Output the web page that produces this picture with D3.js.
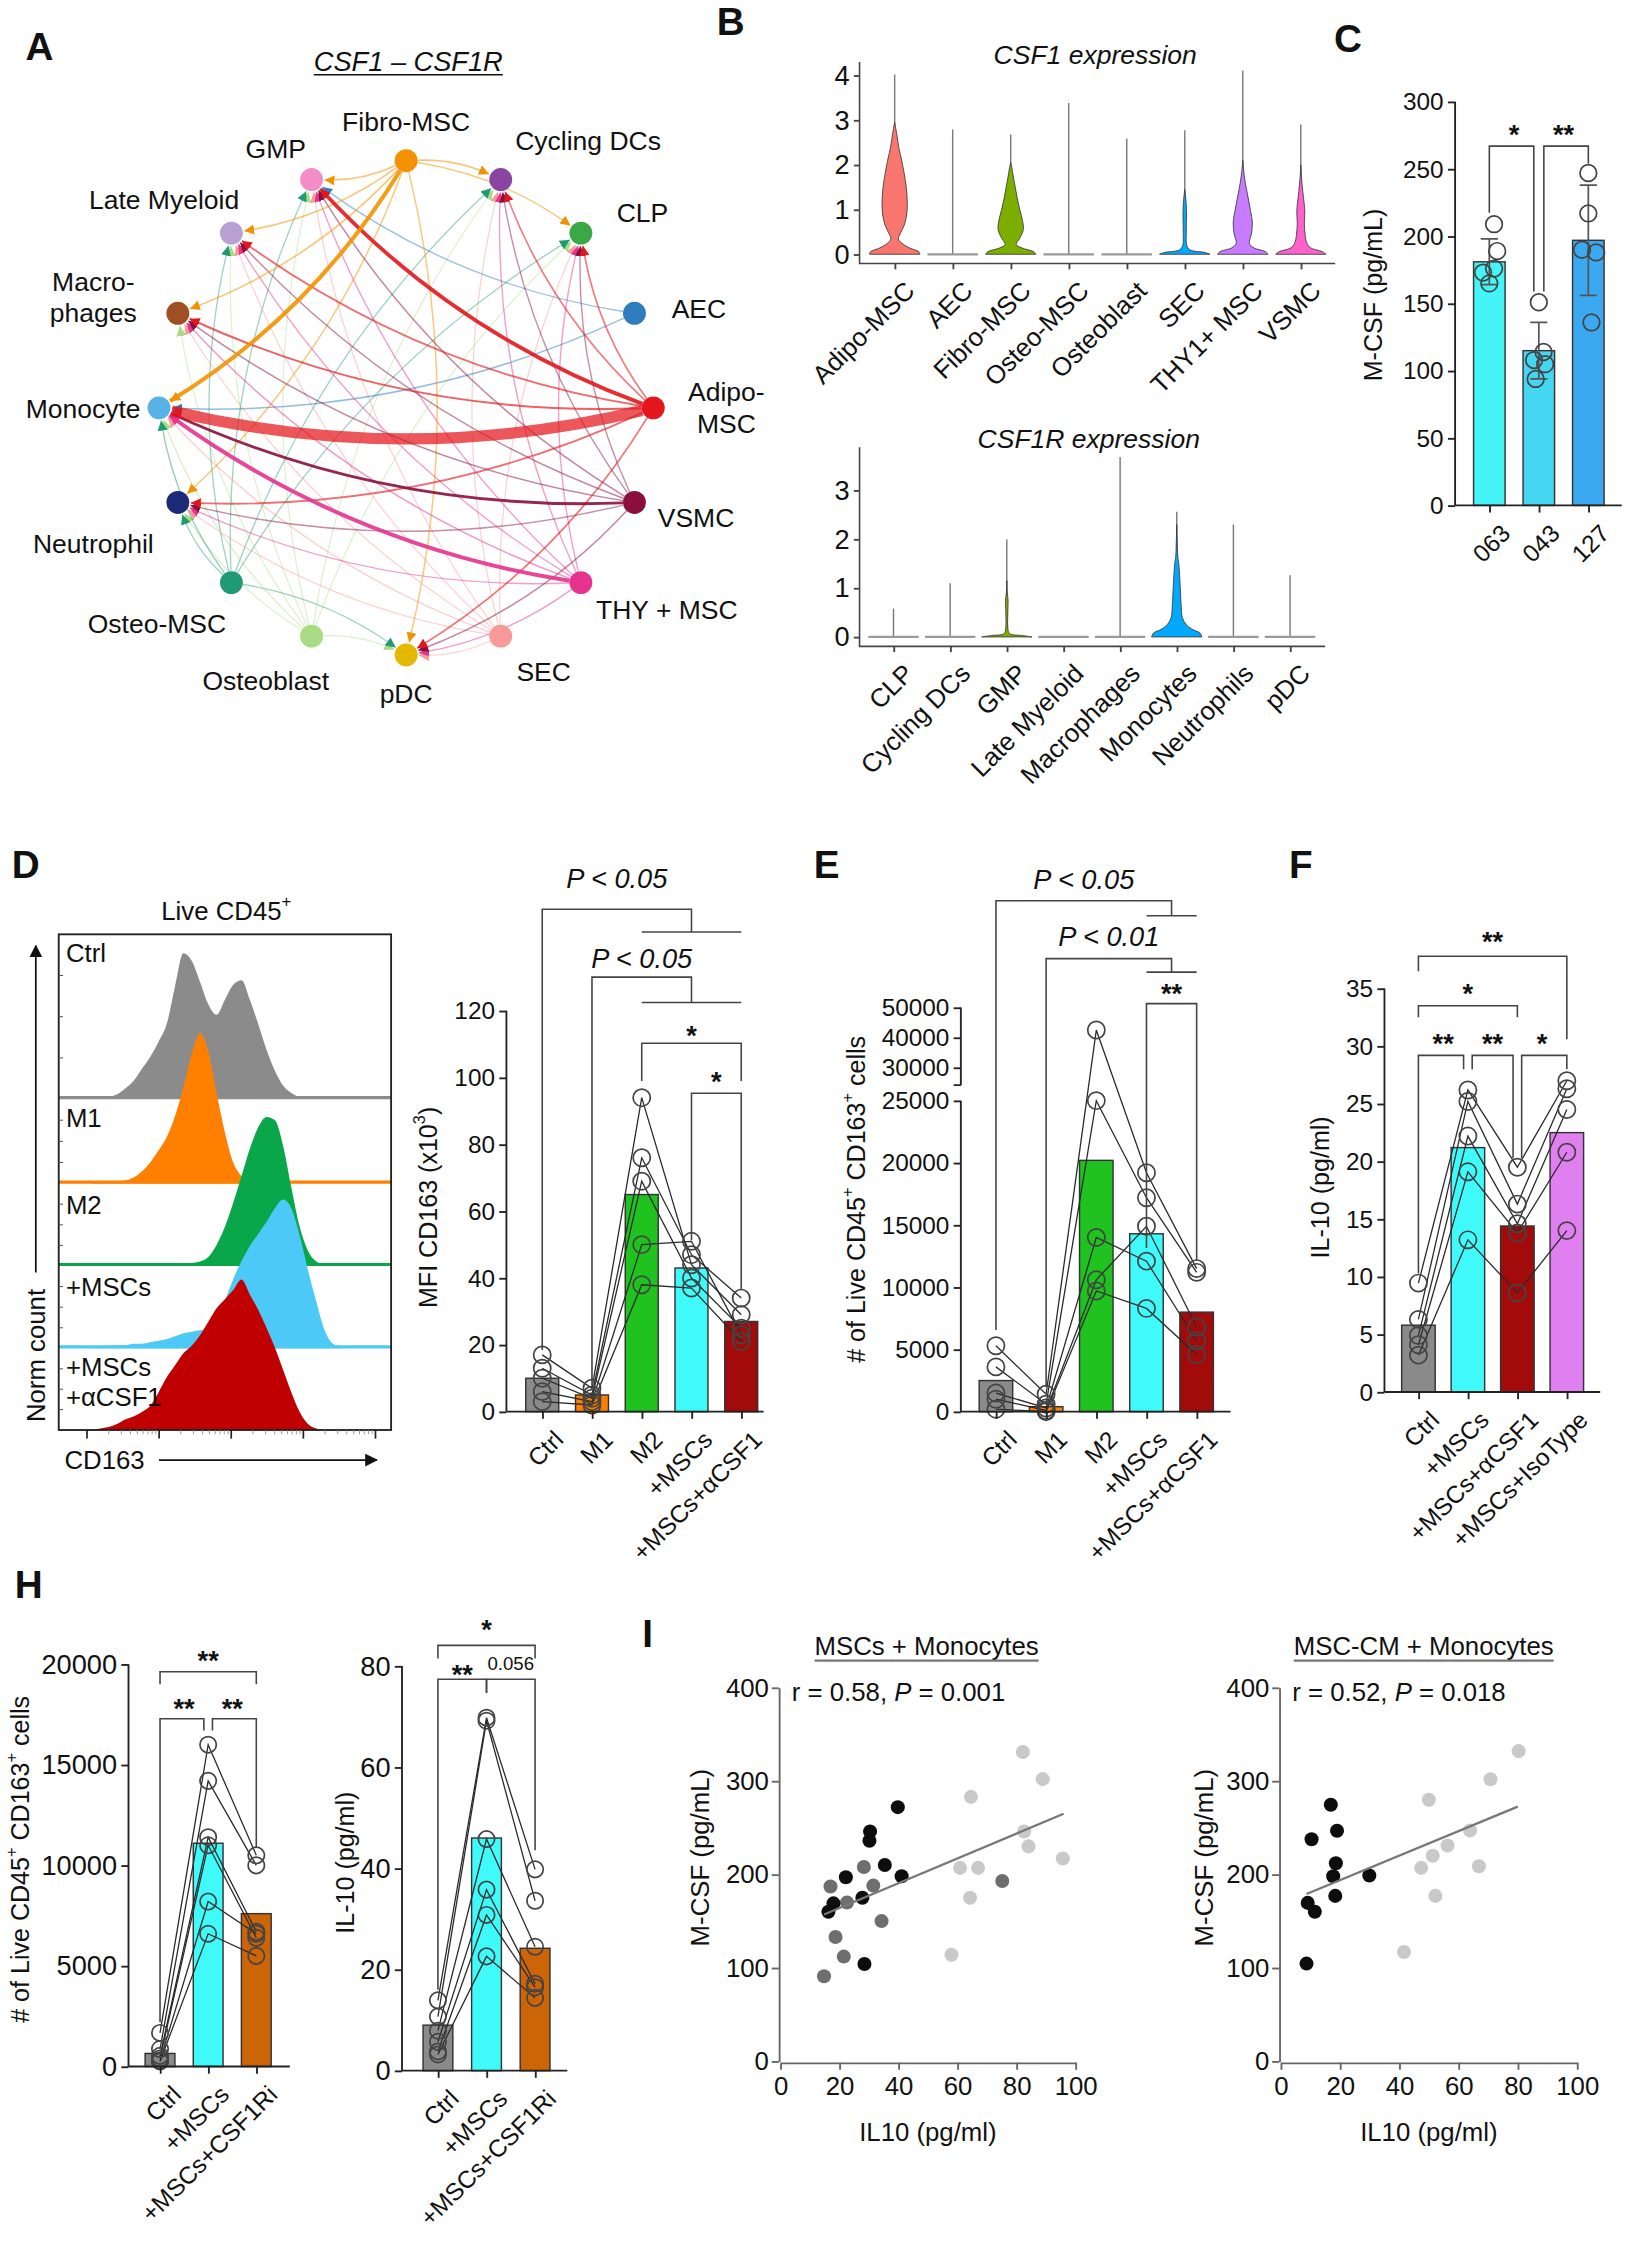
<!DOCTYPE html>
<html><head><meta charset="utf-8">
<script src="https://cdn.jsdelivr.net/npm/d3@7"></script>
<style>body{margin:0;background:#fff} svg{display:block}</style>
</head><body><svg id="fig"></svg>
<script>
"use strict";
// Figure: CSF1–CSF1R axis (A circle plot, B violins, C–I bar/scatter panels). Layout units = 1135x1566 viewBox.
const FONT = "Arial, 'Liberation Sans', Helvetica, sans-serif";

// ---------- A: cell–cell communication ----------
const cells = ["Fibro-MSC","Cycling DCs","CLP","AEC","Adipo-MSC","VSMC","THY+ MSC","SEC","pDC","Osteoblast","Osteo-MSC","Neutrophil","Monocyte","Macrophages","Late Myeloid","GMP"];
const cellColors = ["#f39200","#8a45a2","#3aa845","#2f7dbd","#e3161b","#8a0f3c","#e5338e","#f99a9a","#e4b800","#a9dc82","#1f9a72","#1d2a78","#58b2e6","#a04f22","#b9a0d3","#f48cc8"];
const cellLabels = [["Fibro-MSC"],["Cycling DCs"],["CLP"],["AEC"],["Adipo-","MSC"],["VSMC"],["THY + MSC"],["SEC"],["pDC"],["Osteoblast"],["Osteo-MSC"],["Neutrophil"],["Monocyte"],["Macro-","phages"],["Late Myeloid"],["GMP"]];
const senders = ["Adipo-MSC","AEC","Fibro-MSC","Osteo-MSC","Osteoblast","SEC","THY+ MSC","VSMC"];
const receivers = ["CLP","Cycling DCs","GMP","Late Myeloid","Macrophages","Monocyte","Neutrophil","pDC"];
const commProb = [
  [0.08,0.08,0.28,0.10,0.12,1.00,0.10,0.09],
  [0.00,0.00,0.05,0.00,0.00,0.06,0.00,0.00],
  [0.06,0.07,0.07,0.07,0.07,0.32,0.06,0.06],
  [0.04,0.04,0.04,0.04,0.00,0.05,0.04,0.04],
  [0.03,0.03,0.03,0.03,0.03,0.04,0.03,0.03],
  [0.04,0.04,0.04,0.04,0.04,0.05,0.04,0.04],
  [0.05,0.05,0.05,0.05,0.06,0.30,0.05,0.05],
  [0.05,0.05,0.06,0.06,0.06,0.20,0.05,0.06]
];

// ---------- B: violins ----------
const csf1Cats = ["Adipo-MSC","AEC","Fibro-MSC","Osteo-MSC","Osteoblast","SEC","THY1+ MSC","VSMC"];
const csf1rCats = ["CLP","Cycling DCs","GMP","Late Myeloid","Macrophages","Monocytes","Neutrophils","pDC"];
const hueColors = ["#F8766D","#CD9600","#7CAE00","#00BE67","#00BFC4","#00A9FF","#C77CFF","#FF61CC"];
const csf1Max = [4.02,2.79,2.68,3.38,2.58,2.77,4.11,2.9];
const csf1Shape = [
  [[0,1],[0.06,0.95],[0.14,0.6],[0.24,0.3],[0.34,0.15],[0.46,0.22],[0.65,0.38],[0.9,0.48],[1.2,0.5],[1.5,0.46],[1.8,0.38],[2.1,0.28],[2.4,0.16],[2.7,0.08],[2.95,0]],
  null,
  [[0,1],[0.06,0.9],[0.14,0.45],[0.22,0.22],[0.35,0.35],[0.55,0.5],[0.75,0.47],[1.0,0.36],[1.25,0.26],[1.5,0.18],[1.75,0.1],[1.95,0.04],[2.05,0]],
  null, null,
  [[0,1],[0.04,0.8],[0.1,0.2],[0.2,0.08],[0.5,0.06],[0.9,0.07],[1.1,0.06],[1.3,0.03],[1.45,0]],
  [[0,1],[0.06,0.9],[0.14,0.45],[0.24,0.26],[0.45,0.34],[0.7,0.38],[1.0,0.3],[1.3,0.2],[1.6,0.1],[1.85,0.04],[2.1,0]],
  [[0,1],[0.06,0.85],[0.14,0.4],[0.25,0.24],[0.45,0.17],[0.7,0.14],[0.95,0.16],[1.15,0.13],[1.4,0.08],[1.7,0.03],[2.0,0]]
];
const csf1rMax = [0.58,1.1,1.99,0,3.68,2.56,2.3,1.26];
const csf1rShape = [
  null, null,
  [[0,1],[0.03,0.6],[0.07,0.1],[0.2,0.04],[0.5,0.04],[0.75,0.05],[0.9,0.02],[1.15,0]],
  null, null,
  [[0,1],[0.08,0.92],[0.16,0.6],[0.26,0.36],[0.4,0.22],[0.6,0.18],[0.9,0.15],[1.2,0.12],[1.5,0.08],[1.65,0.04],[2.0,0.015],[2.3,0]],
  null, null
];

// ---------- C ----------
const cCats = ["063","043","127"];
const cMean = [181,115,197];
const cSD = [17,21,41];
const cPoints = [[209,189,176,173,165],[151,114,108,105,94],[247,217,190,188,136]];
const cJitter = [[0.3,0.5,0.3,-0.4,0],[0,0.3,-0.3,0.4,-0.2],[0,0,-0.4,0.5,0.2]];
const cColors = ["#45f4f6","#45d6f2","#3ba9ef"];

// ---------- D ----------
const histGrid = [10,12.5,15,17.5,20,22.5,25,27.5,30,32.5,35,37.5,40,42.5,45,47.5,50,52.5,55,57.5,60,62.5,65,67.5,70,72.5,75,77.5,80,82.5,85];
const histCtrl = [0.01,0.01,0.015,0.03,0.07,0.12,0.2,0.28,0.38,0.5,0.75,0.97,0.92,0.78,0.63,0.56,0.66,0.76,0.79,0.66,0.5,0.33,0.19,0.09,0.04,0.015,0.01,0.01,0.01,0.01,0.01];
const histM1 = [0.005,0.01,0.01,0.015,0.02,0.04,0.08,0.14,0.22,0.31,0.45,0.64,0.86,1.0,0.88,0.6,0.34,0.14,0.05,0.02,0.01,0.005,0,0,0,0,0,0,0,0,0];
const histM2 = [0.01,0.01,0.01,0.01,0.01,0.01,0.01,0.01,0.01,0.01,0.01,0.015,0.02,0.03,0.06,0.14,0.26,0.42,0.6,0.78,0.92,0.99,0.97,0.8,0.52,0.26,0.1,0.03,0.01,0.01,0.01];
const histMSC = [0.01,0.01,0.015,0.02,0.02,0.03,0.03,0.04,0.05,0.06,0.08,0.1,0.11,0.12,0.13,0.2,0.32,0.46,0.58,0.68,0.76,0.84,0.93,0.99,0.93,0.75,0.52,0.31,0.12,0.03,0.01];
const histAnti = [0,0.01,0.02,0.04,0.07,0.09,0.12,0.16,0.25,0.35,0.43,0.51,0.56,0.63,0.72,0.81,0.87,0.93,1.0,0.9,0.8,0.68,0.55,0.4,0.25,0.12,0.04,0.01,0,0,0];
const histColors = ["#8b8b8b","#ff8000","#0aa64a","#4cc9f7","#c00000"];
const histDecades = [8.5,30.2,51.9,73.6,95.3];

const dCats = ["Ctrl","M1","M2","+MSCs","+MSCs+αCSF1"];
const dMean = [10,5,65,43,27];
const dDonors = [[17,7,94,44,29],[13,5,76,47,34],[10,4,69,40,25],[6,3,50,51,23],[3,2,38,37,21]];
const groupColors = ["#8a8a8a","#ff7f00","#1fc21f","#40fafa","#a30b0b"];

// ---------- E ----------
const eMean = [2500,400,20200,14300,8000];
const eDonors = [[5300,1400,42500,19200,11500],[3600,600,25000,17200,11200],[1500,300,14000,12100,5700],[1000,100,10600,14900,6800],[200,0,9700,8300,4600]];
const eTicks = [0,5000,10000,15000,20000,25000,30000,40000,50000];

// ---------- F ----------
const fCats = ["Ctrl","+MSCs","+MSCs+αCSF1","+MSCs+IsoType"];
const fMean = [5.8,21.2,14.4,22.5];
const fDonors = [[9.45,26.2,19.5,27],[6.3,25.2,16.3,26.3],[4.9,22.2,14.6,24.5],[4.1,19.1,13.8,20.8],[3.2,13.2,8.6,14]];
const fColors = ["#8a8a8a","#40fafa","#a30b0b","#e07ff0"];

// ---------- H ----------
const hCats = ["Ctrl","+MSCs","+MSCs+CSF1Ri"];
const hCellMean = [650,11100,7600];
const hCellDonors = [[1670,16000,10500],[870,14200,10000],[530,11400,6700],[400,11000,6400],[300,8200,6600],[250,6600,5500]];
const hIlMean = [9,46,24.2];
const hIlDonors = [[13.9,69.8,39.8],[10.7,69.2,33.6],[7.9,45.8,24.5],[5.7,35.8,17.2],[3.8,30.8,16.5],[3.2,22.6,14.4]];
const hColors = ["#8a8a8a","#40fafa","#cc6508"];

// ---------- I ----------
const iLeftBlack = [[16.3,160],[18,169],[22.2,197],[27.8,175],[28.5,104],[30.2,236],[30.4,246],[35.4,210],[39.8,272],[41.1,198]];
const iLeftDark = [[14.8,91],[18.7,133],[21.5,112],[22.6,170],[17,187],[28.3,208],[31.5,188],[34.3,150],[75.2,193]];
const iLeftLight = [[60.9,207],[64.6,283],[64.3,175],[67,207],[58,114],[82.2,331],[82.6,246],[84.1,230],[88.9,302],[95.7,217]];
const iLeftFit = [[14.8,157],[96,265]];
const iRightBlack = [[8.7,104.5],[9.1,169.5],[11.5,160],[10.4,237.6],[16.9,274.5],[19,246.7],[18.6,212],[17.7,198],[18.4,177],[29.9,198.8]];
const iRightLight = [[41.6,117],[47.4,207],[50,280],[51.3,220],[52.2,177],[56.3,231],[63.9,247],[66.9,208.7],[70.8,301.8],[80.3,332]];
const iRightFit = [[8.7,179],[80,272.5]];

// =====================================================================
const svg = d3.select("#fig").attr("width",1626).attr("height",2244).attr("viewBox","0 0 1135 1566")
  .attr("font-family",FONT).style("background","#fff");

function T(g,x,y,s,o={}){
  const t=g.append("text").attr("x",x).attr("y",y).text(s).attr("font-size",o.fs||18)
    .attr("text-anchor",o.anchor||"middle").attr("fill",o.fill||"#111");
  if(o.italic) t.attr("font-style","italic");
  if(o.bold) t.attr("font-weight","bold");
  if(o.db) t.attr("dominant-baseline",o.db);
  if(o.rot!=null) t.attr("transform",`rotate(${o.rot},${x},${y})`);
  return t;
}
// text with superscripts: parts = [[str, sup?], ...]
function R(g,x,y,parts,o={}){
  const t=T(g,x,y,"",o);
  parts.forEach(([s,sup])=>{ const ts=t.append("tspan").text(s); if(sup) ts.attr("baseline-shift","super").attr("font-size",(o.fs||18)*0.65); });
  return t;
}
function styleAxis(a,fs,col){
  a.attr("font-size",fs).attr("font-family",FONT);
  a.selectAll("text").attr("fill","#111");
  a.selectAll("line,path").attr("stroke",col||"#222").attr("stroke-width",1.3);
}

// panel letters
[["A",27.5,32],["B",510,15],["C",941,27],["D",18,603],["E",577,603],["F",908,603],["H",20,1106],["I",452,1140]]
  .forEach(([s,x,y])=>T(svg,x,y,s,{fs:27,bold:true,db:"central"}));

// ================= A =================
(function(){
  const g=svg.append("g");
  const cx=283.5, cy=284.5, Rr=172.5, nr=8;
  const ang=d3.scaleLinear().domain([0,cells.length]).range([-Math.PI/2,1.5*Math.PI]);
  const pos=cells.map((c,i)=>[cx+Rr*Math.cos(ang(i)), cy+Rr*Math.sin(ang(i))]);
  const idx=(n)=>cells.indexOf(n);
  const t=T(g,285,43,"CSF1 – CSF1R",{fs:19,italic:true,db:"central"});
  const tw=t.node().getComputedTextLength();
  g.append("line").attr("x1",285-tw/2).attr("x2",285+tw/2).attr("y1",52).attr("y2",52).attr("stroke","#111").attr("stroke-width",1.1);

  const defs=svg.append("defs");
  senders.forEach((s,i)=>{
    defs.append("marker").attr("id","arr"+i).attr("viewBox","0 0 10 10").attr("refX",10).attr("refY",5)
      .attr("markerWidth",7).attr("markerHeight",7).attr("markerUnits","userSpaceOnUse").attr("orient","auto")
      .append("path").attr("d","M0,0L10,5L0,10Z").attr("fill",cellColors[idx(s)]);
  });
  const edges=[];
  senders.forEach((s,i)=>receivers.forEach((r,j)=>{ if(commProb[i][j]>0) edges.push({s,r,p:commProb[i][j],si:i}); }));
  edges.sort((a,b)=>a.p-b.p);
  const wS=d3.scaleLinear([0,1],[0.6,7.8]);
  const oS=d3.scaleLinear([0.03,0.2],[0.42,0.9]).clamp(true);
  const mv=(p,q,d)=>{const vx=q[0]-p[0],vy=q[1]-p[1],L=Math.hypot(vx,vy)||1;return [p[0]+vx/L*d,p[1]+vy/L*d];};
  g.append("g").selectAll("path").data(edges).join("path")
    .attr("d",e=>{ const a=pos[idx(e.s)], b=pos[idx(e.r)]; const dx=b[0]-a[0], dy=b[1]-a[1];
      const c=[(a[0]+b[0])/2+0.12*dy,(a[1]+b[1])/2-0.12*dx]; const s=mv(a,c,nr), en=mv(b,c,nr+1);
      return `M${s[0]},${s[1]}Q${c[0]},${c[1]} ${en[0]},${en[1]}`; })
    .attr("fill","none").attr("stroke",e=>cellColors[idx(e.s)]).attr("stroke-width",e=>wS(e.p))
    .attr("stroke-opacity",e=>e.p>0.9?0.72:oS(e.p)).attr("marker-end",e=>`url(#arr${e.si})`);
  g.append("g").selectAll("circle").data(cells).join("circle")
    .attr("cx",(c,i)=>pos[i][0]).attr("cy",(c,i)=>pos[i][1]).attr("r",nr).attr("fill",(c,i)=>cellColors[i]);
  const off=[[0,-27],[61,-27],[43,-14],[45,-3],[51,0],[43,11],[60,19],[30,25],[0,27],[-32,31],[-52,29],[-59,29],[-53,1],[-59,-11],[-47,-23],[-25,-21]];
  cellLabels.forEach((ls,i)=>{
    const x=pos[i][0]+off[i][0], y=pos[i][1]+off[i][1];
    ls.forEach((l,k)=>T(g,x,y+(k-(ls.length-1)/2)*22,l,{fs:18.5,db:"central"}));
  });
})();

// ================= B =================
function violinPanel(o){
  const g=svg.append("g");
  const x=d3.scalePoint().domain(o.cats).range(o.xRange);
  const y=d3.scaleLinear().domain([0,o.top]).range([o.y0,o.yTop]);
  const hw=17.6;
  T(g,o.titleX,o.titleY,o.title,{fs:18.5,italic:true,db:"central"});
  g.append("path").attr("d",`M${o.axisX},${o.axisTopY}V${o.axisY}H${o.axisEnd}`).attr("fill","none").attr("stroke","#444").attr("stroke-width",1.1);
  const ya=g.append("g").attr("transform",`translate(${o.axisX},0)`).call(d3.axisLeft(y).tickValues(o.ticks).tickSize(4).tickPadding(3).tickFormat(d3.format("d")));
  ya.select(".domain").remove(); styleAxis(ya,19,"#444");
  const xa=g.append("g").attr("transform",`translate(0,${o.axisY})`).call(d3.axisBottom(x).tickSize(4).tickFormat(""));
  xa.select(".domain").remove(); styleAxis(xa,12,"#444");
  g.selectAll("line.vl").data(o.cats).join("line").attr("x1",c=>x(c)).attr("x2",c=>x(c))
    .attr("y1",y(0)).attr("y2",(c,i)=>y(o.max[i])).attr("stroke","#7a7a7a").attr("stroke-width",1);
  const area=d3.area().curve(d3.curveCatmullRom);
  o.cats.forEach((c,i)=>{
    const sh=o.shape[i], cx=x(c);
    if(!sh){ g.append("line").attr("x1",cx-hw).attr("x2",cx+hw).attr("y1",y(0)).attr("y2",y(0)).attr("stroke","#9a9a9a").attr("stroke-width",1.6); return; }
    area.y(d=>y(d[0])).x0(d=>cx-d[1]*hw).x1(d=>cx+d[1]*hw);
    g.append("path").attr("d",area(sh)).attr("fill",o.colors[i]).attr("stroke","#3a3a3a").attr("stroke-width",0.6);
  });
  o.cats.forEach(c=>T(g,x(c)+6,o.axisY+11,c,{fs:18,anchor:"end",db:"hanging",rot:-45}));
}
violinPanel({cats:csf1Cats,xRange:[624.5,908],top:4,y0:177.3,yTop:52.4,axisX:600,axisY:183.8,axisTopY:43,axisEnd:932,
  ticks:[0,1,2,3,4],max:csf1Max,shape:csf1Shape,colors:hueColors,title:"CSF1 expression",titleX:764.5,titleY:38});
violinPanel({cats:csf1rCats,xRange:[623.7,900.5],top:3,y0:444.4,yTop:342,axisX:600,axisY:451,axisTopY:312,axisEnd:925,
  ticks:[0,1,2,3],max:csf1rMax,shape:csf1rShape,colors:hueColors,title:"CSF1R expression",titleX:760,titleY:306});

// ================= bar panels =================
function barPanel(o){
  const g=svg.append("g");
  const x=d3.scalePoint().domain(o.cats).range(o.xRange);
  const y=o.y, y0=y(0), step=x.step();
  const xi=(f)=>x(o.cats[0])+f*step;
  g.selectAll("rect").data(o.means).join("rect")
    .attr("x",(d,i)=>xi(i)-o.bw/2).attr("width",o.bw).attr("y",d=>y(d)).attr("height",d=>y0-y(d))
    .attr("fill",(d,i)=>o.colors[i]).attr("stroke","#333").attr("stroke-width",1);
  if(o.sd){
    o.means.forEach((m,i)=>{
      const a=y(m+o.sd[i]), b=y(m-o.sd[i]), cx=xi(i);
      g.append("path").attr("d",`M${cx},${a}V${b}M${cx-6},${a}H${cx+6}M${cx-6},${b}H${cx+6}`).attr("stroke","#555").attr("stroke-width",1.2).attr("fill","none");
    });
  }
  if(o.lines){
    const ln=d3.line().x((d,i)=>xi(i)).y(d=>y(d));
    g.selectAll("path.dn").data(o.donors).join("path").attr("class","dn").attr("d",ln).attr("fill","none").attr("stroke","#2a2a2a").attr("stroke-width",0.9);
  }
  o.donors.forEach((dn,k)=>dn.forEach((v,i)=>{
    const jx=o.jitter?o.jitter[i][k]*o.bw*0.5:0;
    g.append("circle").attr("cx",xi(i)+jx).attr("cy",y(v)).attr("r",o.r||6).attr("fill","none").attr("stroke","#444").attr("stroke-width",1.2);
  }));
  const ya=g.append("g").attr("transform",`translate(${o.axisX},0)`).call(d3.axisLeft(y).tickValues(o.ticks).tickSize(5).tickSizeOuter(0).tickPadding(3).tickFormat(d3.format("d")));
  styleAxis(ya,o.fs||17);
  if(o.broken){ ya.select(".domain").remove(); o.broken(g); }
  else ya.select(".domain").attr("d",`M0,${y(o.ticks[0])}V${y(o.ticks[o.ticks.length-1])}`);
  const xa=g.append("g").attr("transform",`translate(0,${y0})`).call(d3.axisBottom(x).tickSize(5).tickSizeOuter(0).tickFormat(""));
  styleAxis(xa,12); xa.select(".domain").attr("d",`M${o.axisX},0H${o.xEnd}`);
  o.cats.forEach(c=>T(g,x(c)+7,y0+12,c,{fs:o.cfs||17,anchor:"end",db:"hanging",rot:-45}));
  if(o.ylab) R(g,o.ylab[0],o.ylab[1],o.ylab[2],{fs:o.lfs||17.5,db:"central",rot:-90});
  // significance brackets
  const path=(pts)=>g.append("path").attr("d",d3.line()(pts)).attr("fill","none").attr("stroke","#444").attr("stroke-width",1.1);
  const star=(xx,yv,s,small)=>{ if(/^\*+$/.test(s)) T(g,xx,y(yv)+9.5,s,{fs:19,bold:true}); else if(small) T(g,xx,y(yv),s,{fs:13,db:"central"}); else T(g,xx,y(yv),s,{fs:19,italic:true,db:"central"}); };
  (o.sig||[]).forEach(b=>{
    if(b.type==="group"){
      const xa0=xi(b.a), xk=xi(b.knee);
      path([[xa0,y(b.legA)],[xa0,y(b.top)],[xk,y(b.top)],[xk,y(b.low)]]);
      path([[xi(b.span[0]),y(b.low)],[xi(b.span[1]),y(b.low)]]);
      star((xa0+xk)/2,b.ty,b.text);
    } else {
      const x1=xi(b.a)+(b.offA||0), x2=xi(b.b)+(b.offB||0);
      path([[x1,y(b.legA)],[x1,y(b.top)],[x2,y(b.top)],[x2,y(b.legB)]]);
      star((xi(b.a)+xi(b.b))/2,b.ty,b.text,b.small);
    }
  });
  return g;
}

// ================= C =================
barPanel({cats:cCats,xRange:[1039.6,1108.7],bw:22,y:d3.scaleLinear([0,300],[352.6,70.8]),means:cMean,sd:cSD,colors:cColors,
  donors:d3.transpose(cPoints),jitter:cJitter,r:5.8,axisX:1015.7,xEnd:1132,ticks:[0,50,100,150,200,250,300],fs:17,cfs:17,
  ylab:[958.6,205.7,[["M-CSF (pg/mL)"]]],
  sig:[{a:0,b:1,top:267,legA:217.5,legB:159,offB:-3.5,text:"*",ty:278.7},{a:1,b:2,top:267,legA:159,legB:254,offA:3.5,text:"**",ty:278.7}]});

// ================= D histogram =================
(function(){
  const g=svg.append("g");
  const L=41,Rt=273,Tp=652,Bt=998;
  const hx=d3.scaleLinear([0,100],[L,Rt]);
  const hh=d3.scaleLinear([0,1],[0,105]);
  const base=[767,826,883.5,941,998];
  const rows=[histCtrl,histM1,histM2,histMSC,histAnti];
  R(g,158,636,[["Live CD45"],["+",true]],{fs:18,db:"central"});
  rows.forEach((r,k)=>{
    const area=d3.area().curve(d3.curveMonotoneX).x((d,i)=>hx(histGrid[i])).y0(base[k]).y1(d=>base[k]-hh(d));
    g.append("path").attr("d",area(r)).attr("fill",histColors[k]);
    if(k<4) g.append("line").attr("x1",L).attr("x2",Rt).attr("y1",base[k]-1).attr("y2",base[k]-1).attr("stroke",histColors[k]).attr("stroke-width",2.2);
  });
  g.append("rect").attr("x",L).attr("y",Tp).attr("width",Rt-L).attr("height",Bt-Tp).attr("fill","none").attr("stroke","#222").attr("stroke-width",1.3);
  // log ticks on bottom edge
  histDecades.forEach((d,k)=>{
    g.append("line").attr("x1",hx(d)).attr("x2",hx(d)).attr("y1",Bt).attr("y2",Bt+6).attr("stroke","#222").attr("stroke-width",1.2);
    if(k<histDecades.length-1) [2,3,4,5,6,7,8,9].forEach(m=>{ const xx=hx(d+Math.log10(m)*(histDecades[k+1]-d));
      g.append("line").attr("x1",xx).attr("x2",xx).attr("y1",Bt).attr("y2",Bt+3).attr("stroke","#888").attr("stroke-width",0.6); });
  });
  [0.25,0.5,0.75].forEach(f=>[Tp,767,826,883.5,941].forEach((b,k)=>{ const nb=[767,826,883.5,941,998][k]; const yy=b+(nb-b)*f;
    g.append("line").attr("x1",L).attr("x2",L+3).attr("y1",yy).attr("y2",yy).attr("stroke","#555").attr("stroke-width",0.7); }));
  const lab=[[665,"Ctrl"],[780,"M1"],[841,"M2"],[898,"+MSCs"],[954,"+MSCs"],[975,"+αCSF1"]];
  lab.forEach(([yy,s])=>T(g,46,yy,s,{fs:18,anchor:"start",db:"central"}));
  g.append("defs").append("marker").attr("id","harr").attr("viewBox","0 0 10 10").attr("refX",9).attr("refY",5)
    .attr("markerWidth",9).attr("markerHeight",9).attr("markerUnits","userSpaceOnUse").attr("orient","auto")
    .append("path").attr("d","M0,0L10,5L0,10Z").attr("fill","#111");
  T(g,25,946,"Norm count",{fs:18,db:"central",rot:-90});
  g.append("line").attr("x1",25).attr("x2",25).attr("y1",888).attr("y2",660).attr("stroke","#111").attr("stroke-width",1.2).attr("marker-end","url(#harr)");
  T(g,45,1019,"CD163",{fs:18,anchor:"start",db:"central"});
  g.append("line").attr("x1",111).attr("x2",263).attr("y1",1019).attr("y2",1019).attr("stroke","#111").attr("stroke-width",1.2).attr("marker-end","url(#harr)");
})();

// ================= D bars =================
barPanel({cats:dCats,xRange:[378.5,517.4],bw:23,y:d3.scaleLinear([0,120],[985.2,705.4]),means:dMean,colors:groupColors,
  donors:dDonors,lines:true,axisX:353.5,xEnd:533,ticks:[0,20,40,60,80,100,120],
  ylab:[298.6,842.6,[["MFI CD163 (x10"],["3",true],[")"]]],
  sig:[{type:"group",a:0,knee:3,span:[2,4],top:150.4,legA:18.5,low:143.6,text:"P < 0.05",ty:159.5},
       {type:"group",a:1,knee:3,span:[2,4],top:130.1,legA:7.9,low:122.5,text:"P < 0.05",ty:135.6},
       {a:2,b:4,top:110.3,legA:99,legB:99,text:"*",ty:113.7},
       {a:3,b:4,top:95.3,legA:51.3,legB:36.5,text:"*",ty:100.2}]});

// ================= E =================
(function(){
  const y=d3.scaleLinear().domain([0,25000,30000,50000]).range([985.2,768.1,745,703.1]);
  barPanel({cats:dCats,xRange:[695.2,835.3],bw:23.4,y,means:eMean,colors:groupColors,donors:eDonors,lines:true,
    axisX:670.7,xEnd:859,ticks:eTicks,
    ylab:[597.2,837,[["# of Live CD45"],["+",true],[" CD163"],["+",true],[" cells"]]],
    broken:(g)=>{
      g.append("path").attr("d",`M670.7,${y(0)}V${y(25000)}M670.7,${y(27340)}V${y(50000)}M665.7,${y(27340)}H670.7`).attr("fill","none").attr("stroke","#222").attr("stroke-width",1.3);
    },
    sig:[{type:"group",a:0,knee:3.5,span:[3,4],top:85600,legA:6564,low:80600,text:"P < 0.05",ty:92800},
         {type:"group",a:1,knee:3.5,span:[3,4],top:66300,legA:1980,low:61800,text:"P < 0.01",ty:73800},
         {a:3,b:4,top:51300,legA:13150,legB:12170,text:"**",ty:56100}]});
})();

// ================= F =================
barPanel({cats:fCats,xRange:[990.1,1093.7],bw:23.4,y:d3.scaleLinear([0,35],[971.5,689.8]),means:fMean,colors:fColors,
  donors:fDonors,lines:true,axisX:966.4,xEnd:1117,ticks:[0,5,10,15,20,25,30,35],
  ylab:[921.2,828.6,[["IL-10 (pg/ml)"]]],
  sig:[{a:0,b:3,top:37.8,legA:36.5,legB:30.6,text:"**",ty:39.4},
       {a:0,b:2,top:33.5,legA:32.5,legB:32.5,text:"*",ty:34.9},
       {a:0,b:1,top:29.2,legA:10.3,legB:28,offB:-3,text:"**",ty:30.6},
       {a:1,b:2,top:29.2,legA:28,legB:20.3,offA:3,offB:-3,text:"**",ty:30.6},
       {a:2,b:3,top:29.2,legA:20.3,legB:28,offA:3,text:"*",ty:30.6}]});

// ================= H =================
barPanel({cats:hCats,xRange:[111.7,178.9],bw:20.8,y:d3.scaleLinear([0,20000],[1442.3,1161.5]),means:hCellMean,colors:hColors,
  donors:hCellDonors,lines:true,r:5.7,axisX:89.7,xEnd:202.3,ticks:[0,5000,10000,15000,20000],fs:19,
  ylab:[14.2,1297.7,[["# of Live CD45"],["+",true],[" CD163"],["+",true],[" cells"]]],
  sig:[{a:0,b:2,top:19630,legA:19010,legB:19010,text:"**",ty:20390},
       {a:0,b:1,top:17290,legA:2200,legB:16700,offB:-3,text:"**",ty:18020},
       {a:1,b:2,top:17290,legA:16700,legB:10860,offA:3,text:"**",ty:18020}]});
barPanel({cats:hCats,xRange:[305.7,373.5],bw:20.8,y:d3.scaleLinear([0,80],[1445.2,1162.8]),means:hIlMean,colors:hColors,
  donors:hIlDonors,lines:true,r:5.7,axisX:280.6,xEnd:396,ticks:[0,20,40,60,80],fs:19,
  ylab:[240.7,1300,[["IL-10 (pg/ml)"]]],
  sig:[{a:0,b:2,top:84.1,legA:81.5,legB:81.5,text:"*",ty:88},
       {a:0,b:1,top:77.4,legA:16,legB:74.7,text:"**",ty:79.2},
       {a:1,b:2,top:77.4,legA:74.7,legB:43.6,text:"0.056",ty:80.5,small:true}]});

// ================= I =================
function scatterPanel(o){
  const g=svg.append("g");
  const x=d3.scaleLinear([0,100],o.xr), y=d3.scaleLinear([0,400],[1438.6,1177.8]);
  const xa=g.append("g").attr("transform",`translate(0,${y(0)+1})`).call(d3.axisBottom(x).tickValues([0,20,40,60,80,100]).tickSize(5).tickSizeOuter(0).tickPadding(5));
  styleAxis(xa,18,"#666");
  const ya=g.append("g").attr("transform",`translate(${x(0)-1},0)`).call(d3.axisLeft(y).tickValues([0,100,200,300,400]).tickSize(5).tickSizeOuter(0).tickPadding(2));
  styleAxis(ya,18,"#666");
  o.sets.forEach(([pts,col])=>g.append("g").selectAll("circle").data(pts).join("circle")
    .attr("cx",d=>x(d[0])).attr("cy",d=>y(d[1])).attr("r",4.9).attr("fill",col));
  g.append("line").attr("x1",x(o.fit[0][0])).attr("y1",y(o.fit[0][1])).attr("x2",x(o.fit[1][0])).attr("y2",y(o.fit[1][1])).attr("stroke","#777").attr("stroke-width",1.6);
  const t=T(g,o.tx,1148.9,o.title,{fs:18,db:"central"});
  const tw=t.node().getComputedTextLength();
  g.append("line").attr("x1",o.tx-tw/2).attr("x2",o.tx+tw/2).attr("y1",1159).attr("y2",1159).attr("stroke","#777").attr("stroke-width",1.5);
  const st=T(g,x(0)+8,1181,"",{fs:18,anchor:"start",db:"central"});
  st.append("tspan").text(`r = ${o.r}, `); st.append("tspan").attr("font-style","italic").text("P"); st.append("tspan").text(` = ${o.p}`);
  T(g,(x(0)+x(100))/2,1487.7,"IL10 (pg/ml)",{fs:18,db:"central"});
  T(g,o.yl,1296.5,"M-CSF (pg/mL)",{fs:18,db:"central",rot:-90});
}
scatterPanel({xr:[544.7,750.7],sets:[[iLeftLight,"#c9c9c9"],[iLeftDark,"#6e6e6e"],[iLeftBlack,"#0d0d0d"]],fit:iLeftFit,
  title:"MSCs + Monocytes",tx:646.8,r:"0.58",p:"0.001",yl:488.8});
scatterPanel({xr:[894,1100.8],sets:[[iRightLight,"#c9c9c9"],[iRightBlack,"#0d0d0d"]],fit:iRightFit,
  title:"MSC-CM + Monocytes",tx:993.8,r:"0.52",p:"0.018",yl:840.2});
</script></body></html>
